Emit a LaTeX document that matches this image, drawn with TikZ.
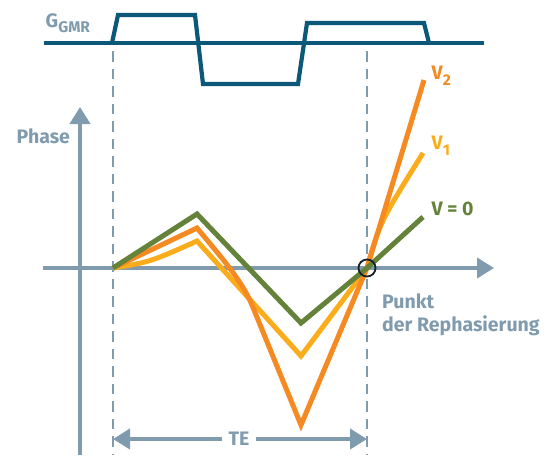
\documentclass[tikz,border=0pt]{standalone}
\usepackage{fontspec}
\setmainfont{Fira Sans}
\usetikzlibrary{arrows.meta}
\definecolor{axisc}{HTML}{7F9BAD}
\definecolor{gmrc}{HTML}{0B5878}
\definecolor{greenc}{HTML}{64823A}
\definecolor{orangec}{HTML}{F58A22}
\definecolor{yellowc}{HTML}{FBAC1B}
\definecolor{ringc}{HTML}{16202A}
\begin{document}
\begin{tikzpicture}[x=1pt,y=-1pt,
  axisline/.style={draw=axisc, line width=4pt},
  tipstyle/.style={-{Triangle[length=17pt,width=20pt]}},
  guide/.style={draw=axisc, line width=2.8pt, dash pattern=on 10.5pt off 7pt},
  gmrline/.style={draw=gmrc, line width=4.2pt, line join=miter},
  curve/.style={line width=5pt, line join=miter, miter limit=20},
  lbl/.style={font=\fontsize{19.5}{23}\selectfont\bfseries, inner sep=0pt, anchor=base west}
]
\useasboundingbox (0,0) rectangle (548,455);

% dashed guides
\coordinate (g1t) at (113,51);
\coordinate (g1b) at (113,455);
\coordinate (g2t) at (367,51);
\coordinate (g2b) at (367,455);
\draw[guide] (g1t) -- (g1b);
\draw[guide] (g2t) -- (g2b);

% GMR gradient
\coordinate (gl) at (44,43);
\coordinate (gr) at (484,43);
\draw[gmrline] (gl) -- (gr);
\draw[gmrline] (112,43) -- (118,15) -- (195,15) -- (203,84) -- (298,84) -- (307,23) -- (424,23) -- (429,43);
\node[lbl, text=axisc] (gmr) at (45.5,27.4) {G\raisebox{-5pt}{\fontsize{15.5}{18}\selectfont GMR}};

% axes
\coordinate (yb) at (80,455);
\coordinate (yt) at (80,107);
\coordinate (xl) at (43,268);
\coordinate (xr) at (494,268);
\draw[axisline, tipstyle] (yb) -- (yt);
\draw[axisline, tipstyle] (xl) -- (xr);
\node[lbl, text=axisc] (phase) at (16.5,143) {Phase};

% curves
\coordinate (s) at (113,268);
\coordinate (c) at (367,268);
\draw[curve, yellowc] (s) .. controls (150,262) .. (197,241) -- (301,356) -- (c) .. controls (380,222) .. (423,153);
\draw[curve, orangec] (s) -- (197,228) .. controls (222,258) and (242,281) .. (252,305) -- (301,425) -- (c) -- (424,80);
\draw[curve, greenc] (s) -- (197,214) -- (301,323) -- (c) -- (423,217);

% rephasing point
\node[draw=ringc, line width=1.8pt, circle, minimum size=17pt, inner sep=0pt] (ring) at (c) {};

% labels
\node[lbl, text=orangec] (v2) at (431.5,79.3) {V\raisebox{-6pt}{\fontsize{15.5}{18}\selectfont 2}};
\node[lbl, text=yellowc] (v1) at (431.5,149.3) {V\raisebox{-6pt}{\fontsize{15.5}{18}\selectfont 1}};
\node[lbl, text=greenc] (v0) at (431.5,215) {V = 0};
\node[lbl, text=axisc] (punkt) at (382,308) {Punkt};
\node[lbl, text=axisc] (rephas) at (382,331) {der Rephasierung};

% TE
\node[lbl, text=axisc, anchor=center, inner xsep=6.5pt] (te) at (239,438.5) {TE};
\coordinate (teL) at (113,439);
\coordinate (teR) at (367,439);
\draw[axisline, tipstyle] (te.west |- teL) -- (teL);
\draw[axisline, tipstyle] (te.east |- teR) -- (teR);
\end{tikzpicture}
\end{document}
